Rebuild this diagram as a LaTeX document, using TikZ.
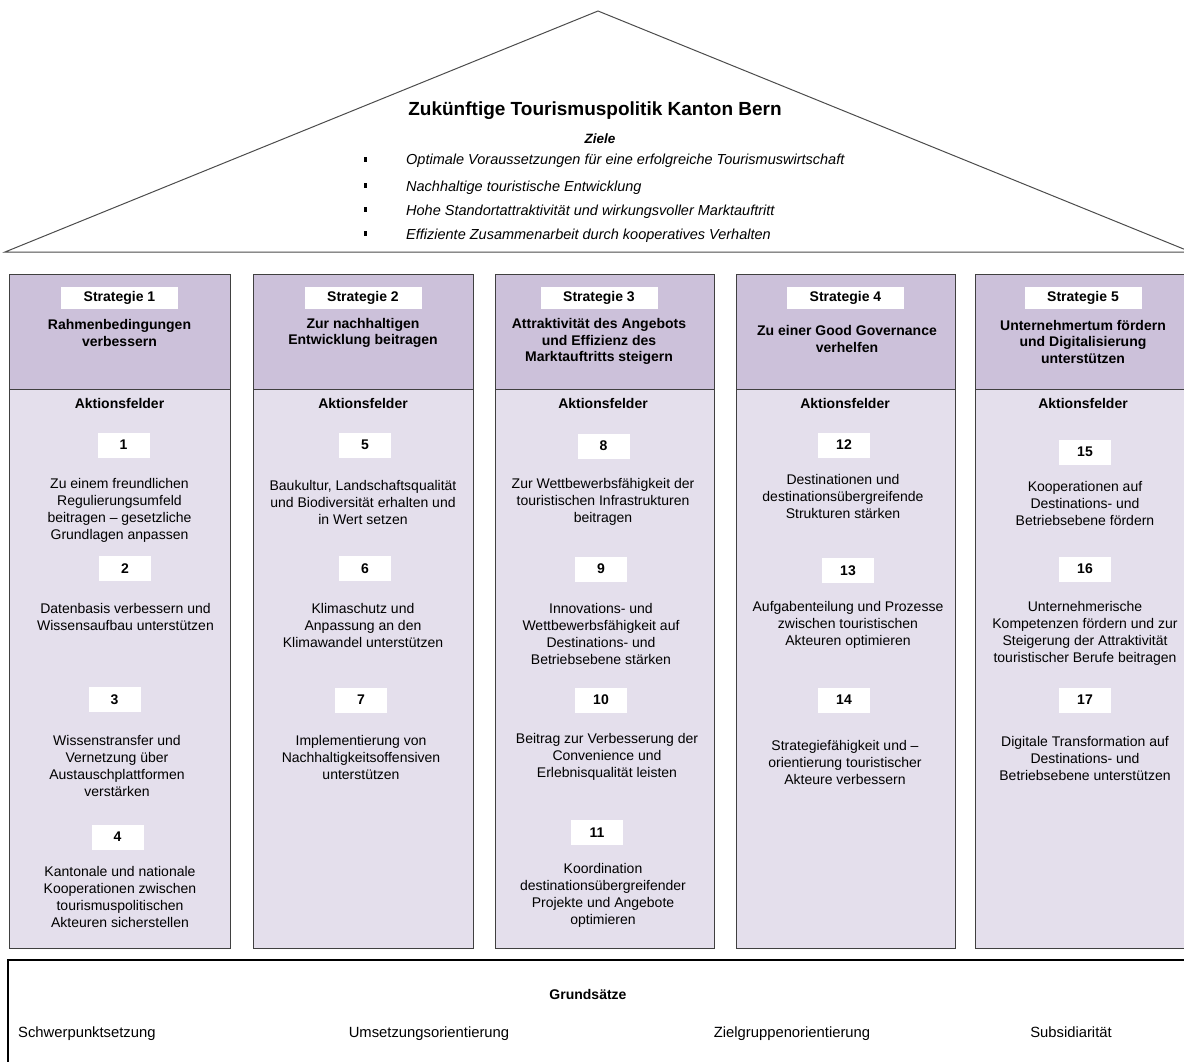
\documentclass[tikz,border=0pt]{standalone}
\usepackage{fontspec}
\setmainfont{Liberation Sans}
\definecolor{hdr}{RGB}{204,193,218}
\definecolor{bod}{RGB}{228,223,236}
\definecolor{edge}{RGB}{64,64,64}
\tikzset{
  colhdr/.style={fill=hdr, draw=edge, line width=1pt},
  colbody/.style={fill=bod, draw=edge, line width=1pt},
  txt/.style={align=center, inner sep=0pt, font=\fontsize{14}{17}\selectfont},
  htxt/.style={align=center, inner sep=0pt, font=\fontsize{14}{16.5}\selectfont\bfseries},
  sbox/.style={fill=white, inner sep=0pt, minimum width=117pt, minimum height=22pt, font=\fontsize{14}{16}\selectfont\bfseries},
  nbox/.style={fill=white, inner sep=0pt, minimum width=52pt, minimum height=25pt, font=\fontsize{14}{16}\selectfont\bfseries},
  aktion/.style={inner sep=0pt, font=\fontsize{14}{16}\selectfont\bfseries},
  ziel/.style={anchor=base west, inner sep=0pt, font=\fontsize{14.5}{16}\selectfont\itshape},
  bul/.style={fill=black, draw=none},
  grund/.style={anchor=base, inner sep=0pt, font=\fontsize{14.8}{17}\selectfont}
}
\begin{document}
\begin{tikzpicture}[x=1pt,y=-1pt]
\useasboundingbox (0,0) rectangle (1184,1062);
\clip (0,0) rectangle (1184,1062);
\fill[white] (0,0) rectangle (1184,1062);
% roof
\draw[draw=black!70, line width=1pt] (5,252) -- (598,11) -- (1191,252) -- cycle;
\node[inner sep=0pt, font=\fontsize{19}{22}\selectfont\bfseries] (title) at (595,111) {Zukünftige Tourismuspolitik Kanton Bern};
\node[inner sep=0pt, font=\fontsize{13.5}{15}\selectfont\bfseries\itshape] (ziele) at (600,139) {Ziele};
\foreach \yy in {160,186,210,234} {\fill[bul] (364,\yy-3) rectangle (367,\yy+2);}
\node[ziel] (z1) at (406,165) {Optimale Voraussetzungen für eine erfolgreiche Tourismuswirtschaft};
\node[ziel] (z2) at (406,191) {Nachhaltige touristische Entwicklung};
\node[ziel] (z3) at (406,215) {Hohe Standortattraktivität und wirkungsvoller Marktauftritt};
\node[ziel] (z4) at (406,239) {Effiziente Zusammenarbeit durch kooperatives Verhalten};
% columns
\foreach \l/\r in {9/230,253/473,495/714,736/955,975/1194} {
  \filldraw[colbody] (\l,389) rectangle (\r,948);
  \filldraw[colhdr] (\l,274) rectangle (\r,389);
}
% column 1
\node[sbox] (s1) at (119.5,298) {Strategie 1};
\node[htxt] (h1) at (119.5,333) {Rahmenbedingungen\\verbessern};
\node[aktion] (a1) at (119.5,403) {Aktionsfelder};
\node[nbox] (n1) at (123.5,445) {1};
\node[txt] (t1) at (119.5,510.5) {Zu einem freundlichen\\Regulierungsumfeld\\beitragen – gesetzliche\\Grundlagen anpassen};
\node[nbox] (n2) at (125,568.5) {2};
\node[txt] (t2) at (125.5,616.5) {Datenbasis verbessern und\\Wissensaufbau unterstützen};
\node[nbox] (n3) at (114.5,699.5) {3};
\node[txt] (t3) at (117,765.5) {Wissenstransfer und\\Vernetzung über\\Austauschplattformen\\verstärken};
\node[nbox] (n4) at (117.5,837) {4};
\node[txt] (t4) at (120,896.5) {Kantonale und nationale\\Kooperationen zwischen\\tourismuspolitischen\\Akteuren sicherstellen};
% column 2
\node[sbox] (s2) at (363,298) {Strategie 2};
\node[htxt] (h2) at (363,333) {Zur nachhaltigen\\Entwicklung beitragen};
\node[aktion] (a2) at (363,403) {Aktionsfelder};
\node[nbox] (n5) at (365,445) {5};
\node[txt] (t5) at (363,502) {Baukultur, Landschaftsqualität\\und Biodiversität erhalten und\\in Wert setzen};
\node[nbox] (n6) at (365,568.5) {6};
\node[txt] (t6) at (363,625) {Klimaschutz und\\Anpassung an den\\Klimawandel unterstützen};
\node[nbox] (n7) at (361,700) {7};
\node[txt] (t7) at (361,757) {Implementierung von\\Nachhaltigkeitsoffensiven\\unterstützen};
% column 3
\node[sbox] (s3) at (599,298) {Strategie 3};
\node[htxt] (h3) at (599,341.5) {Attraktivität des Angebots\\und Effizienz des\\Marktauftritts steigern};
\node[aktion] (a3) at (603,403) {Aktionsfelder};
\node[nbox] (n8) at (603.5,446) {8};
\node[txt] (t8) at (603,502) {Zur Wettbewerbsfähigkeit der\\touristischen Infrastrukturen\\beitragen};
\node[nbox] (n9) at (601,569) {9};
\node[txt] (t9) at (601,633.5) {Innovations- und\\Wettbewerbsfähigkeit auf\\Destinations- und\\Betriebsebene stärken};
\node[nbox] (n10) at (601,700) {10};
\node[txt] (t10) at (607,757) {Beitrag zur Verbesserung der\\Convenience und\\Erlebnisqualität leisten};
\node[nbox] (n11) at (597,832.5) {11};
\node[txt] (t11) at (603,895.5) {Koordination\\destinationsübergreifender\\Projekte und Angebote\\optimieren};
% column 4
\node[sbox] (s4) at (845.5,298) {Strategie 4};
\node[htxt] (h4) at (847,339) {Zu einer Good Governance\\verhelfen};
\node[aktion] (a4) at (845,403) {Aktionsfelder};
\node[nbox] (n12) at (844,445) {12};
\node[txt] (t12) at (843,496) {Destinationen und\\destinationsübergreifende\\Strukturen stärken};
\node[nbox] (n13) at (848,570.5) {13};
\node[txt] (t13) at (848,625) {Aufgabenteilung und Prozesse\\zwischen touristischen\\Akteuren optimieren};
\node[nbox] (n14) at (844,700) {14};
\node[txt] (t14) at (845,762) {Strategiefähigkeit und –\\orientierung touristischer\\Akteure verbessern};
% column 5
\node[sbox] (s5) at (1083,298) {Strategie 5};
\node[htxt] (h5) at (1083,341.5) {Unternehmertum fördern\\und Digitalisierung\\unterstützen};
\node[aktion] (a5) at (1083,403) {Aktionsfelder};
\node[nbox] (n15) at (1085,452) {15};
\node[txt] (t15) at (1085,503) {Kooperationen auf\\Destinations- und\\Betriebsebene fördern};
\node[nbox] (n16) at (1085,569) {16};
\node[txt] (t16) at (1085,633.5) {Unternehmerische\\Kompetenzen fördern und zur\\Steigerung der Attraktivität\\touristischer Berufe beitragen};
\node[nbox] (n17) at (1085,700) {17};
\node[txt] (t17) at (1085,758) {Digitale Transformation auf\\Destinations- und\\Betriebsebene unterstützen};
% foundation
\draw[black, line width=2pt] (8,1080) -- (8,960) -- (1200,960);
\node[inner sep=0pt, font=\fontsize{14}{16}\selectfont\bfseries] (gs) at (588,994) {Grundsätze};
\node[grund, anchor=base west] (g1) at (18,1037) {Schwerpunktsetzung};
\node[grund] (g2) at (429,1037) {Umsetzungsorientierung};
\node[grund] (g3) at (792,1037) {Zielgruppenorientierung};
\node[grund] (g4) at (1071,1037) {Subsidiarität};
\end{tikzpicture}
\end{document}
